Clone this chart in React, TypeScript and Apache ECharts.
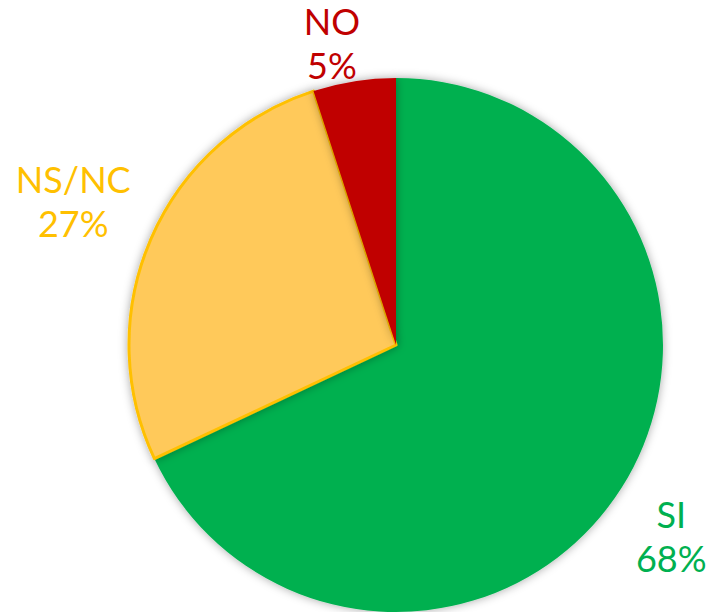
import React, { useEffect, useRef } from "react";
import * as echarts from "echarts";

const categories = ["SI", "NS/NC", "NO"];
const values = [68, 27, 5];
const fillColors = ["#00B050", "#FFC95A", "#C00000"];
const borderColors = ["#00B050", "#FFC000", "#C00000"];
const labelColors = ["#00B050", "#FFC000", "#C00000"];
const labelNudge = [
  [-9, 27],
  [-16, -22],
  [9, 1],
];

export default function App() {
  const ref = useRef<HTMLDivElement>(null);
  useEffect(() => {
    if (!ref.current) return;
    const chart = echarts.init(ref.current, undefined, { renderer: "svg" });
    chart.setOption({
      animation: false,
      backgroundColor: "#ffffff",
      series: [
        {
          type: "pie",
          center: [396, 345],
          radius: 267,
          startAngle: 90,
          clockwise: true,
          avoidLabelOverlap: false,
          data: categories.map((c, i) => ({
            name: c,
            value: values[i],
            itemStyle: {
              color: fillColors[i],
              borderColor: borderColors[i],
              borderWidth: i === 1 ? 3 : 0,
            },
            label: { color: labelColors[i] },
          })),
          itemStyle: {
            shadowBlur: 10,
            shadowColor: "rgba(0,0,0,0.35)",
          },
          label: {
            show: true,
            position: "outside",
            formatter: "{t|{b}}\n{t|{d}%}",
            fontFamily: "Lato, 'Noto Sans', sans-serif",
            fontSize: 36,
            lineHeight: 44,
            rich: {
              t: {
                align: "center",
                fontFamily: "Lato, 'Noto Sans', sans-serif",
                fontSize: 36,
                lineHeight: 44,
              },
            },
          },
          labelLine: { show: false, length: 40, length2: 20 },
          labelLayout: (p: any) => ({
            align: "center",
            verticalAlign: "middle",
            dx: labelNudge[p.dataIndex][0],
            dy: labelNudge[p.dataIndex][1],
          }),
          emphasis: { disabled: true },
        },
      ],
    });
    return () => chart.dispose();
  }, []);
  return (
    <div
      ref={ref}
      style={{ position: "absolute", left: 0, top: 0, width: 710, height: 612 }}
    />
  );
}
